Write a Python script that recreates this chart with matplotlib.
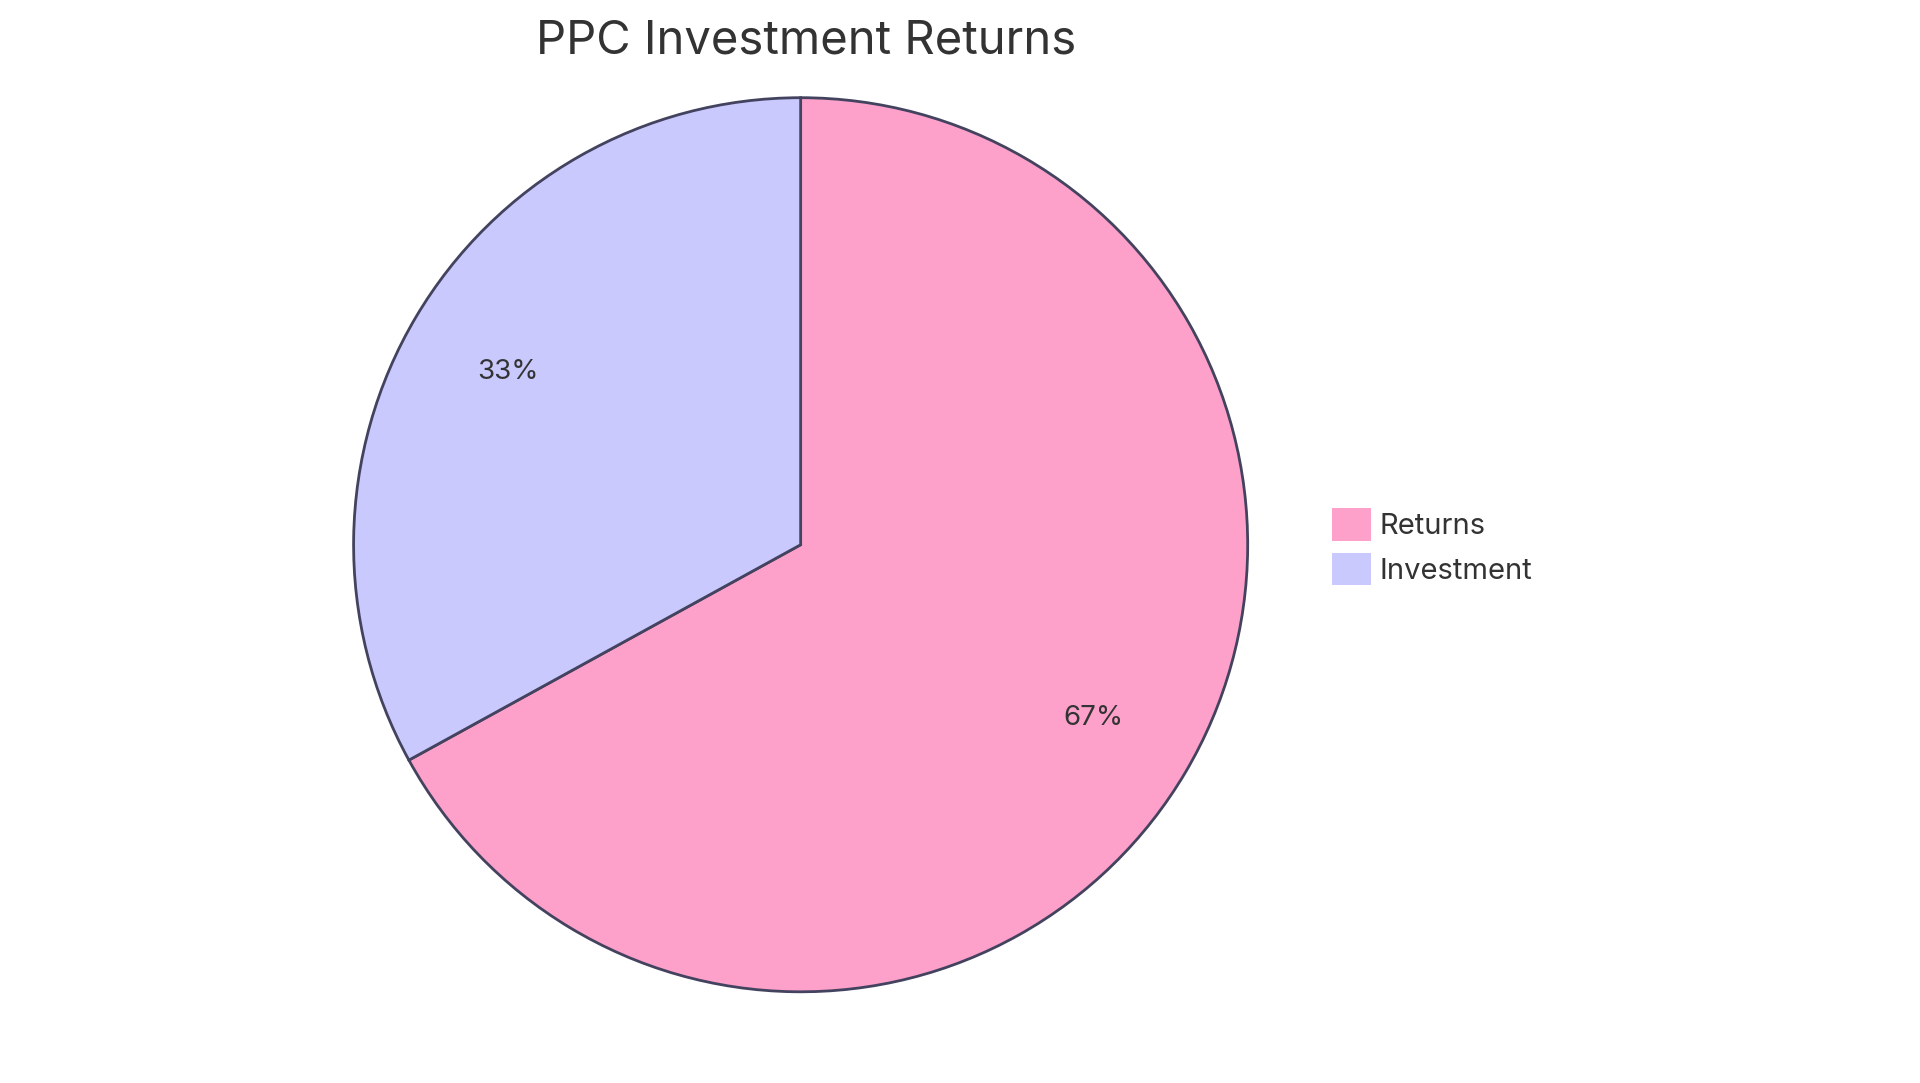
import matplotlib.pyplot as plt
from matplotlib.patches import Patch

plt.rcParams['font.family'] = ['Inter', 'DejaVu Sans']

labels = ["Returns", "Investment"]
values = [67, 33]
colors = ["#FDA1CB", "#C9C9FE"]
edge = "#43435F"

fig = plt.figure(figsize=(19.2, 10.83), dpi=100)
ax = fig.add_axes([0.183, 0.082, 0.468, 0.83])
wedges, texts, autotexts = ax.pie(
    values, colors=colors, startangle=90, counterclock=False,
    autopct="%1.0f%%", pctdistance=0.76,
    wedgeprops=dict(edgecolor=edge, linewidth=2),
    textprops=dict(fontsize=20, color="#333333"))
ax.set_xlim(-1.005, 1.005)
ax.set_ylim(-1.005, 1.005)
ax.set_aspect("equal")

fig.text(0.42, 0.962, "PPC Investment Returns", ha="center", va="center",
         fontsize=34, color="#333333")

handles = [Patch(facecolor=c, edgecolor="none") for c in colors]
fig.legend(handles, labels, loc="upper left", bbox_to_anchor=(0.68, 0.555),
           frameon=False, fontsize=21, handlelength=1.35, handleheight=1.35,
           handletextpad=0.3, labelspacing=0.4, labelcolor="#333333")

fig.savefig("out.png", dpi=100, facecolor="white")
